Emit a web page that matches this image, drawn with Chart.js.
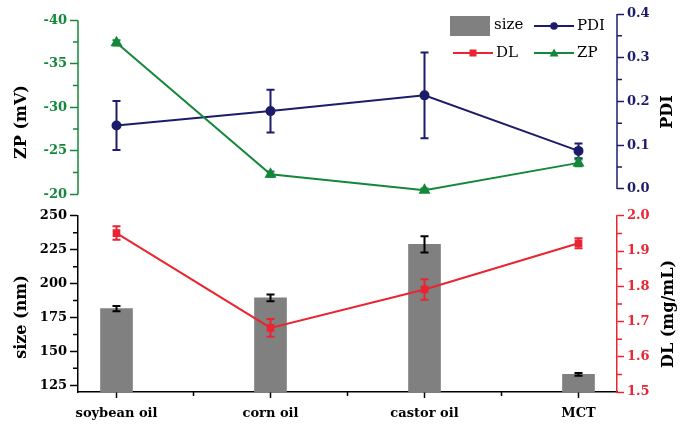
<!DOCTYPE html>
<html>
<head>
<meta charset="utf-8">
<script src="https://cdn.jsdelivr.net/npm/chart.js@4"></script>
<style>
  html, body { margin: 0; padding: 0; background: #fff; }
  #wrap { position: relative; width: 683px; height: 432px; }
  canvas { position: absolute; left: 0; }
</style>
</head>
<body>
<div id="wrap">
  <canvas id="topChart" width="683" height="205" style="top:0"></canvas>
  <canvas id="bottomChart" width="683" height="227" style="top:205px"></canvas>
</div>
<script>
// data
const oils = ['soybean oil', 'corn oil', 'castor oil', 'MCT'];
const zpValues = [-37.4, -22.3, -20.45, -23.6];
const zpErrors = [0.3, 0.3, 0.2, 0.4];
const pdiValues = [0.145, 0.178, 0.214, 0.087];
const pdiErrors = [0.056, 0.049, 0.098, 0.017];
const sizeValues = [181.5, 189.5, 229, 133];
const sizeErrors = [2, 2.5, 6, 1];
const dlValues = [1.951, 1.682, 1.791, 1.922];
const dlErrors = [0.019, 0.025, 0.029, 0.014];

const zpTicks = [-40, -35, -30, -25, -20];
const pdiTicks = [0.0, 0.1, 0.2, 0.3, 0.4];
const sizeTicks = [125, 150, 175, 200, 225, 250];
const dlTicks = [1.5, 1.6, 1.7, 1.8, 1.9, 2.0];
const legendNames = ['size', 'PDI', 'DL', 'ZP'];

const GREEN = '#14883a';
const NAVY = '#1c1c6b';
const RED = '#ea2430';
const GRAY = '#808080';
const tickFont = { family: 'DejaVu Serif', size: 13, weight: 'bold' };

const pts = vals => vals.map((v, i) => ({ x: i, y: v }));
const mids = t => t.slice(1).map((v, i) => (v + t[i]) / 2);

function yAxis(pos, color, ticks, min, max, opts) {
  opts = opts || {};
  return {
    type: 'linear',
    position: pos,
    min, max,
    reverse: !!opts.reverse,
    afterBuildTicks: s => { s.ticks = ticks.map(v => ({ value: v })); },
    afterFit: s => { s.width = pos === 'left' ? 78 : 66; },
    border: { display: !!opts.border, color, width: 1.5 },
    grid: { drawOnChartArea: false, tickLength: pos === 'left' ? 8 : 7, tickColor: color, tickWidth: 1.5 },
    ticks: {
      color, font: tickFont, padding: 3,
      callback: v => opts.digits ? v.toFixed(opts.digits) : String(v)
    }
  };
}

function xAxis(show) {
  return {
    type: 'linear',
    min: -0.25, max: 3.25,
    offset: false,
    display: show,
    afterBuildTicks: s => { s.ticks = oils.map((_, i) => ({ value: i })); },
    afterFit: s => { s.height = show ? 40 : 0; },
    border: { display: true, color: '#000', width: 1.5 },
    grid: { offset: false, drawOnChartArea: false, tickLength: 6, tickColor: '#000', tickWidth: 1.5 },
    ticks: { color: '#000', font: tickFont, padding: 8, maxRotation: 0, callback: v => oils[v] }
  };
}

// error bars drawn right after each dataset
function errorBars(spec) {
  return {
    id: 'errorBars',
    afterDatasetDraw(chart, args) {
      const s = spec[args.index];
      if (!s) return;
      const ctx = chart.ctx;
      const scale = chart.scales[args.meta.yAxisID];
      const data = chart.data.datasets[args.index].data;
      ctx.save();
      ctx.strokeStyle = s.color;
      ctx.lineWidth = 2;
      args.meta.data.forEach((el, i) => {
        const v = data[i].y, e = s.errors[i];
        const y1 = scale.getPixelForValue(v + e);
        const y2 = scale.getPixelForValue(v - e);
        const x = el.x, c = s.cap;
        ctx.beginPath();
        ctx.moveTo(x, y1); ctx.lineTo(x, y2);
        ctx.moveTo(x - c, y1); ctx.lineTo(x + c, y1);
        ctx.moveTo(x - c, y2); ctx.lineTo(x + c, y2);
        ctx.stroke();
      });
      ctx.restore();
    }
  };
}

// minor ticks + custom axis lines + rotated axis titles
function axisExtras(spec) {
  return {
    id: 'axisExtras',
    afterDraw(chart) {
      const ctx = chart.ctx;
      const area = chart.chartArea;
      ctx.save();
      ctx.lineWidth = 1.5;
      (spec.minor || []).forEach(m => {
        const sc = chart.scales[m.id];
        ctx.strokeStyle = m.color;
        ctx.beginPath();
        m.values.forEach(v => {
          const p = sc.getPixelForValue(v);
          if (m.id === 'x') {
            ctx.moveTo(p, area.bottom); ctx.lineTo(p, area.bottom + 4);
          } else if (sc.position === 'left') {
            ctx.moveTo(area.left - 5, p); ctx.lineTo(area.left, p);
          } else {
            ctx.moveTo(area.right, p); ctx.lineTo(area.right + 5, p);
          }
        });
        ctx.stroke();
      });
      (spec.lines || []).forEach(l => {
        const sc = chart.scales[l.id];
        const x = sc.position === 'left' ? area.left : area.right;
        ctx.strokeStyle = l.color;
        ctx.beginPath();
        ctx.moveTo(x, sc.getPixelForValue(l.from));
        ctx.lineTo(x, sc.getPixelForValue(l.to));
        ctx.stroke();
      });
      ctx.fillStyle = '#000';
      ctx.font = 'bold 16px "DejaVu Serif"';
      ctx.textAlign = 'center';
      ctx.textBaseline = 'middle';
      (spec.titles || []).forEach(t => {
        ctx.save();
        ctx.translate(t.x, t.y);
        ctx.rotate(-Math.PI / 2);
        ctx.fillText(t.text, 0, 0);
        ctx.restore();
      });
      ctx.restore();
    }
  };
}

const legendPlugin = {
  id: 'innerLegend',
  afterDraw(chart) {
    const ctx = chart.ctx;
    ctx.save();
    ctx.font = '15px "DejaVu Serif"';
    ctx.textBaseline = 'middle';
    ctx.fillStyle = GRAY;
    ctx.fillRect(450, 16, 40, 20);
    ctx.fillStyle = '#000';
    ctx.fillText(legendNames[0], 494, 25);
    const lineItem = (x, y, color, shape, label) => {
      ctx.strokeStyle = color;
      ctx.fillStyle = color;
      ctx.lineWidth = 2;
      ctx.beginPath();
      ctx.moveTo(x, y); ctx.lineTo(x + 40, y);
      ctx.stroke();
      const cx = x + 20;
      ctx.beginPath();
      if (shape === 'circle') ctx.arc(cx, y, 3.8, 0, Math.PI * 2);
      else if (shape === 'rect') ctx.rect(cx - 3.5, y - 3.5, 7, 7);
      else { ctx.moveTo(cx, y - 4.5); ctx.lineTo(cx + 4.5, y + 3.5); ctx.lineTo(cx - 4.5, y + 3.5); ctx.closePath(); }
      ctx.fill();
      ctx.fillStyle = '#000';
      ctx.fillText(label, x + 43, y);
    };
    lineItem(534, 26, NAVY, 'circle', legendNames[1]);
    lineItem(453, 53, RED, 'rect', legendNames[2]);
    lineItem(534, 53, GREEN, 'triangle', legendNames[3]);
    ctx.restore();
  }
};

const common = {
  responsive: false,
  animation: false,
  plugins: { legend: { display: false }, tooltip: { enabled: false } }
};

new Chart(document.getElementById('topChart'), {
  type: 'line',
  data: {
    datasets: [
      { label: 'ZP', data: pts(zpValues), yAxisID: 'zp', borderColor: GREEN, backgroundColor: GREEN,
        borderWidth: 2, pointStyle: 'triangle', pointRadius: 5, tension: 0 },
      { label: 'PDI', data: pts(pdiValues), yAxisID: 'pdi', borderColor: NAVY, backgroundColor: NAVY,
        borderWidth: 2, pointStyle: 'circle', pointRadius: 4, tension: 0 }
    ]
  },
  options: Object.assign({}, common, {
    layout: { padding: { top: 14, bottom: 8, left: 0, right: 0 } },
    scales: {
      x: xAxis(false),
      zp: yAxis('left', GREEN, zpTicks, -40.71, -20, { reverse: true }),
      pdi: yAxis('right', NAVY, pdiTicks, -0.012, 0.4, { digits: 1 })
    }
  }),
  plugins: [
    errorBars({ 0: { errors: zpErrors, color: GREEN, cap: 4 }, 1: { errors: pdiErrors, color: NAVY, cap: 4 } }),
    axisExtras({
      minor: [{ id: 'zp', values: mids(zpTicks), color: GREEN }, { id: 'pdi', values: mids(pdiTicks), color: NAVY }],
      lines: [{ id: 'zp', from: -40, to: -20, color: GREEN }, { id: 'pdi', from: 0, to: 0.4, color: NAVY }],
      titles: [{ text: 'ZP (mV)', x: 22, y: 122 }, { text: 'PDI', x: 668, y: 112 }]
    }),
    legendPlugin
  ]
});

new Chart(document.getElementById('bottomChart'), {
  type: 'bar',
  data: {
    datasets: [
      { type: 'line', label: 'DL', data: pts(dlValues), yAxisID: 'dl', borderColor: RED, backgroundColor: RED,
        borderWidth: 2, pointStyle: 'rect', pointRadius: 4, tension: 0 },
      { type: 'bar', label: 'size', data: pts(sizeValues), yAxisID: 'size', backgroundColor: GRAY,
        barThickness: 32 }
    ]
  },
  options: Object.assign({}, common, {
    layout: { padding: { top: 10, bottom: 0, left: 0, right: 0 } },
    scales: {
      x: xAxis(true),
      size: yAxis('left', '#000', sizeTicks, 120, 250, { border: true }),
      dl: yAxis('right', RED, dlTicks, 1.5, 2.0, { digits: 1, border: true })
    }
  }),
  plugins: [
    errorBars({ 0: { errors: dlErrors, color: RED, cap: 4 }, 1: { errors: sizeErrors, color: '#000', cap: 4 } }),
    axisExtras({
      minor: [{ id: 'size', values: mids(sizeTicks), color: '#000' }, { id: 'dl', values: mids(dlTicks), color: RED },
              { id: 'x', values: mids([0, 1, 2, 3]), color: '#000' }],
      titles: [{ text: 'size (nm)', x: 22, y: 112 }, { text: 'DL (mg/mL)', x: 669, y: 109 }]
    })
  ]
});
</script>
</body>
</html>
